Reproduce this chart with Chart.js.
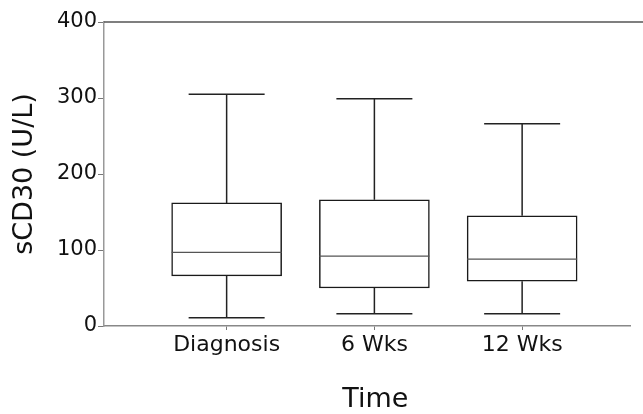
<!DOCTYPE html>
<html>
<head>
<meta charset="utf-8">
<script src="https://cdn.jsdelivr.net/npm/chart.js@4/dist/chart.umd.min.js"></script>
<style>
    html, body { margin: 0; padding: 0; background: #fff; }
    #wrap { width: 643px; height: 414px; }
</style>
</head>
<body>
<div id="wrap"><canvas id="boxChart"></canvas></div>
<script>
// values (U/L)
const categories = ["Diagnosis", "6 Wks", "12 Wks"];
const whiskerLow = [11, 16, 16];
const q1Values = [66, 50, 59];
const medians = [97, 92, 88];
const q3Values = [162, 166, 145];
const whiskerHigh = [305, 299, 266];
const yTicks = [0, 100, 200, 300, 400];
const xTitle = "Time";

const positions = categories.map((c, i) => i + 1);

const boxData = positions.map((p, i) => ({ x: p, y: [q1Values[i], q3Values[i]] }));

// whiskers, caps, medians, top frame line and the x title
const boxExtras = {
    id: "boxExtras",
    afterDatasetsDraw(chart) {
        const ctx = chart.ctx;
        const xs = chart.scales.x;
        const ys = chart.scales.y;
        const area = chart.chartArea;
        const capHalf = 38;
        const boxHalf = 55;

        ctx.save();

        // top frame line
        ctx.strokeStyle = "#555";
        ctx.lineWidth = 1.5;
        ctx.beginPath();
        ctx.moveTo(area.left, area.top);
        ctx.lineTo(chart.width, area.top);
        ctx.stroke();

        positions.forEach((p, i) => {
            const x = xs.getPixelForValue(p);
            const yLo = ys.getPixelForValue(whiskerLow[i]);
            const yQ1 = ys.getPixelForValue(q1Values[i]);
            const yQ3 = ys.getPixelForValue(q3Values[i]);
            const yHi = ys.getPixelForValue(whiskerHigh[i]);
            const yMed = ys.getPixelForValue(medians[i]);

            ctx.strokeStyle = "#222";
            ctx.lineWidth = 1.5;
            ctx.beginPath();
            ctx.moveTo(x, yQ3);
            ctx.lineTo(x, yHi);
            ctx.moveTo(x - capHalf, yHi);
            ctx.lineTo(x + capHalf, yHi);
            ctx.moveTo(x, yQ1);
            ctx.lineTo(x, yLo);
            ctx.moveTo(x - capHalf, yLo);
            ctx.lineTo(x + capHalf, yLo);
            ctx.stroke();

            ctx.strokeStyle = "#555";
            ctx.lineWidth = 1.2;
            ctx.beginPath();
            ctx.moveTo(x - boxHalf, yMed);
            ctx.lineTo(x + boxHalf, yMed);
            ctx.stroke();
        });

        // x title sits under the middle group in the original
        ctx.fillStyle = "#111";
        ctx.font = "27px 'DejaVu Sans'";
        ctx.textAlign = "center";
        ctx.textBaseline = "middle";
        ctx.fillText(xTitle, xs.getPixelForValue(positions[1]) + 1, 400);

        ctx.restore();
    }
};

new Chart(document.getElementById("boxChart").getContext("2d"), {
    type: "bar",
    data: {
        datasets: [{
            data: boxData,
            backgroundColor: "#fff",
            borderColor: "#1a1a1a",
            borderWidth: 1.5,
            borderSkipped: false,
            barThickness: 110
        }]
    },
    options: {
        responsive: true,
        maintainAspectRatio: false,
        animation: false,
        layout: { padding: { top: 22, right: 13, left: 0, bottom: 0 } },
        plugins: {
            legend: { display: false },
            tooltip: { enabled: false }
        },
        scales: {
            x: {
                type: "linear",
                min: 0.17,
                max: 3.73,
                offset: false,
                afterBuildTicks: (scale) => {
                    scale.ticks = positions.map(p => ({ value: p }));
                },
                afterFit: (scale) => { scale.height = 88; },
                ticks: {
                    color: "#111",
                    font: { family: "DejaVu Sans", size: 22 },
                    padding: 2,
                    maxRotation: 0,
                    autoSkip: false,
                    callback: (v) => categories[positions.indexOf(v)] || ""
                },
                grid: {
                    display: true,
                    offset: false,
                    drawOnChartArea: false,
                    tickLength: 4,
                    color: "#777"
                },
                border: { display: true, color: "#888", width: 1.5 },
                title: { display: false }
            },
            y: {
                min: 0,
                max: 400,
                afterBuildTicks: (scale) => {
                    scale.ticks = yTicks.map(v => ({ value: v }));
                },
                afterFit: (scale) => { scale.width = 104; },
                ticks: {
                    color: "#111",
                    font: { family: "DejaVu Sans", size: 21 },
                    padding: 1
                },
                grid: {
                    display: true,
                    drawOnChartArea: false,
                    tickLength: 6,
                    color: "#777"
                },
                border: { display: true, color: "#999", width: 1.5 },
                title: {
                    display: true,
                    text: "sCD30 (U/L)",
                    color: "#111",
                    font: { family: "DejaVu Sans", size: 27, lineHeight: 1 },
                    padding: { top: 11, bottom: 0 }
                }
            }
        }
    },
    plugins: [boxExtras]
});
</script>
</body>
</html>
